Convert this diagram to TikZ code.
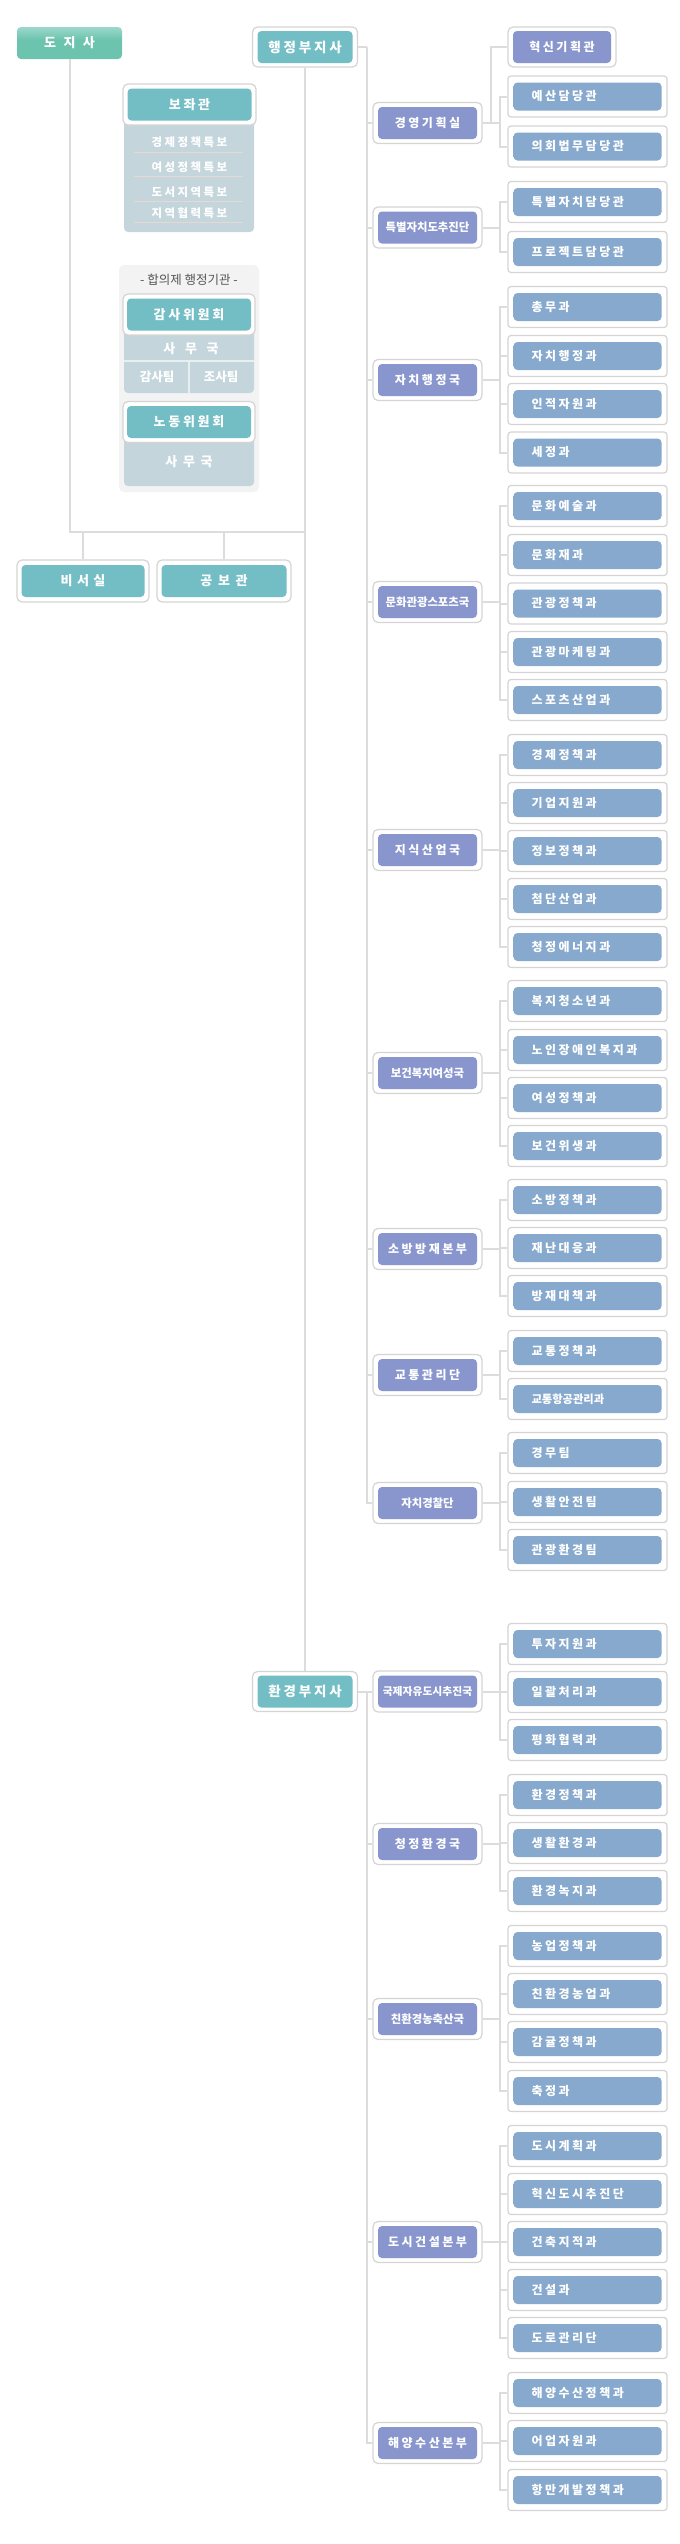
\documentclass[tikz,border=0pt]{standalone}
\usepackage{fontspec}
\setmainfont{Noto Sans CJK KR}
\newfontfamily\krtight{Noto Sans CJK KR}
\newfontfamily\krwide{Noto Sans CJK KR}[LetterSpace=21]
\newfontfamily\krwider{Noto Sans CJK KR}[LetterSpace=34]
\newfontfamily\krwidest{Noto Sans CJK KR}[LetterSpace=52]

\definecolor{linegray}{HTML}{DCDCDC}
\definecolor{framegray}{HTML}{D4D4D4}
\definecolor{tealbox}{HTML}{73BDC5}
\definecolor{chiefgreen}{HTML}{6CC3AE}
\definecolor{chieftop}{HTML}{9BD8CA}
\definecolor{periw}{HTML}{8896CD}
\definecolor{leafblue}{HTML}{87A9CD}
\definecolor{leafhi}{HTML}{D6E2EE}
\definecolor{panelblue}{HTML}{C4D6DC}
\definecolor{groupgray}{HTML}{F3F3F3}
\definecolor{seppink}{HTML}{E6D9D3}
\definecolor{titlegray}{HTML}{555555}

\pgfdeclarehorizontalshading{leafshade}{100bp}{color(0bp)=(leafhi); color(2bp)=(leafhi); color(11bp)=(leafblue); color(100bp)=(leafblue)}
\pgfdeclareverticalshading{chiefshade}{100bp}{color(0bp)=(chiefgreen); color(55bp)=(chiefgreen); color(75bp)=(chieftop); color(100bp)=(chieftop)}

\tikzset{
  conn/.style={draw=linegray, line width=2pt},
  boxframe/.style={draw=framegray, fill=white, line width=1.2pt, rounded corners=5pt, inner sep=0pt},
  inbox/.style={rounded corners=4pt, inner sep=0pt, text=white, font=\krwide\bfseries\fontsize{12}{14}\selectfont},
  chief/.style={shade, shading=chiefshade, rounded corners=4pt, inner sep=0pt, minimum width=105pt, minimum height=32pt, text=white, font=\krwider\bfseries\fontsize{13}{15}\selectfont},
  viceframe/.style={boxframe, minimum width=105pt, minimum height=40pt},
  vicebox/.style={inbox, fill=tealbox, minimum width=95pt, minimum height=32pt, font=\krwide\bfseries\fontsize{13.5}{15}\selectfont},
  headframe/.style={boxframe, minimum width=133pt, minimum height=41pt},
  headbox/.style={inbox, fill=tealbox, minimum width=124pt, minimum height=32pt, font=\krwide\bfseries\fontsize{13}{15}\selectfont},
  deptframe/.style={boxframe, minimum width=109pt, minimum height=41pt},
  deptbox/.style={inbox, fill=periw, minimum width=99pt, minimum height=32pt},
  tight/.style={font=\krtight\bfseries\fontsize{11.4}{14}\selectfont},
  leafframe/.style={boxframe, rounded corners=3pt, minimum width=159pt, minimum height=41pt},
  leafbox/.style={inbox, shade, shading=leafshade, minimum width=148pt, minimum height=28pt, text width=112pt, align=left},
  paneltext/.style={text=white, inner sep=0pt, font=\krwide\bfseries\fontsize{11.5}{14}\selectfont},
  sepline/.style={draw=seppink, line width=1pt},
  cutline/.style={draw=white!60!panelblue, line width=2pt}
}

\begin{document}
\begin{tikzpicture}[x=1pt,y=1pt,yscale=-1,xscale=1]
\useasboundingbox (0,0) rectangle (680,2544);

% 도지사, 비서실, 공보관
\node[chief] (dosa) at (69.5,43) {도 지 사};
\node[headframe, minimum width=132pt, minimum height=42pt] (biseo) at (83,581) {};
\node[headbox, minimum width=123pt, font=\krwider\bfseries\fontsize{13}{15}\selectfont] (biseo-t) at (biseo) {비서실};
\node[headframe, minimum width=134pt, minimum height=42pt] (gongbo) at (224,581) {};
\node[headbox, minimum width=125pt] (gongbo-t) at (gongbo) {공 보 관};

% 보좌관
\fill[panelblue, rounded corners=4pt] (124,118) rectangle (254,232);
\node[headframe] (bojwa) at (189.5,104.5) {};
\node[headbox] (bojwa-t) at (bojwa) {보좌관};
\node[paneltext] (bo1) at (189.5,142) {경제정책특보};
\node[paneltext] (bo2) at (189.5,167) {여성정책특보};
\node[paneltext] (bo3) at (189.5,192) {도서지역특보};
\node[paneltext] (bo4) at (189.5,213) {지역협력특보};
\draw[sepline] (134,152) -- (243,152);
\draw[sepline] (134,176) -- (243,176);
\draw[sepline] (134,201) -- (243,201);
\draw[sepline] (134,222) -- (243,222);

% 합의제 행정기관
\fill[groupgray, rounded corners=5pt] (119,265) rectangle (259,492);
\node[text=titlegray, inner sep=0pt, font=\krtight\fontsize{12.5}{14}\selectfont] (hab) at (189,280) {- 합의제 행정기관 -};
\fill[panelblue, rounded corners=4pt] (124,328) rectangle (254,393);
\draw[cutline] (124,361) -- (254,361);
\draw[cutline] (189,361) -- (189,393);
\node[headframe, minimum width=132pt] (gamsa) at (189,314.5) {};
\node[headbox] (gamsa-t) at (gamsa) {감사위원회};
\node[paneltext, font=\krwidest\bfseries\fontsize{13}{15}\selectfont] (gamsa-s) at (191,349) {사 무 국};
\node[paneltext, font=\krtight\bfseries\fontsize{12.5}{14}\selectfont] (gamsa-1) at (157,377) {감사팀};
\node[paneltext, font=\krtight\bfseries\fontsize{12.5}{14}\selectfont] (gamsa-2) at (221,377) {조사팀};
\fill[panelblue, rounded corners=4pt] (124,436) rectangle (254,486);
\node[headframe, minimum width=132pt] (nodong) at (189,422) {};
\node[headbox] (nodong-t) at (nodong) {노동위원회};
\node[paneltext, font=\krwide\bfseries\fontsize{13}{15}\selectfont] (nodong-s) at (189,462) {사 무 국};

% 부지사
\node[viceframe] (vp1) at (305,47) {};
\node[vicebox] (vp1-t) at (vp1) {행정부지사};
\node[viceframe] (vp2) at (305,1691.5) {};
\node[vicebox] (vp2-t) at (vp2) {환경부지사};
\coordinate (hub) at (305,532);
\draw[conn] (dosa.south) |- (hub);
\draw[conn] (biseo.north) -- (biseo.north |- hub);
\draw[conn] (gongbo.north) -- (gongbo.north |- hub);
\draw[conn] (vp1.south) -- (vp2.north);
\draw[conn] (vp1.east) -- ++(9,0) coordinate (spine1);
\draw[conn] (vp2.east) -- ++(9,0) coordinate (spine2);

% 경영기획실
\node[deptframe] (d1) at (427.5,123) {};
\node[deptbox] (d1-t) at (d1) {경영기획실};
\draw[conn] (spine1) |- (d1.west);
\node[deptframe, minimum width=108pt, minimum height=40pt] (innov) at (562,47) {};
\node[deptbox, minimum width=98pt] (innov-t) at (innov) {혁신기획관};
\draw[conn] (d1.east) -- ++(8,0) |- (innov.west);
\foreach \y/\t [count=\i] in {96.5/예산담당관, 146.5/의회법무담당관} {
  \node[leafframe] (d1-\i) at (587.5,\y) {};
  \node[leafbox] (d1-\i-t) at (d1-\i) {\t};
  \draw[conn] (d1.east) -- ++(17,0) |- (d1-\i.west);
}

% 특별자치도추진단
\node[deptframe] (d2) at (427.5,227.5) {};
\node[deptbox, tight] (d2-t) at (d2) {특별자치도추진단};
\draw[conn] (spine1) |- (d2.west);
\foreach \y/\t [count=\i] in {202/특별자치담당관, 252/프로젝트담당관} {
  \node[leafframe] (d2-\i) at (587.5,\y) {};
  \node[leafbox] (d2-\i-t) at (d2-\i) {\t};
  \draw[conn] (d2.east) -- ++(17,0) |- (d2-\i.west);
}

% 자치행정국
\node[deptframe] (d3) at (427.5,380) {};
\node[deptbox] (d3-t) at (d3) {자치행정국};
\draw[conn] (spine1) |- (d3.west);
\foreach \y/\t [count=\i] in {307/총무과, 356/자치행정과, 404/인적자원과, 452.5/세정과} {
  \node[leafframe] (d3-\i) at (587.5,\y) {};
  \node[leafbox] (d3-\i-t) at (d3-\i) {\t};
  \draw[conn] (d3.east) -- ++(17,0) |- (d3-\i.west);
}

% 문화관광스포츠국
\node[deptframe] (d4) at (427.5,602) {};
\node[deptbox, tight] (d4-t) at (d4) {문화관광스포츠국};
\draw[conn] (spine1) |- (d4.west);
\foreach \y/\t [count=\i] in {506/문화예술과, 555/문화재과, 603.5/관광정책과, 652/관광마케팅과, 700/스포츠산업과} {
  \node[leafframe] (d4-\i) at (587.5,\y) {};
  \node[leafbox] (d4-\i-t) at (d4-\i) {\t};
  \draw[conn] (d4.east) -- ++(17,0) |- (d4-\i.west);
}

% 지식산업국
\node[deptframe] (d5) at (427.5,850) {};
\node[deptbox] (d5-t) at (d5) {지식산업국};
\draw[conn] (spine1) |- (d5.west);
\foreach \y/\t [count=\i] in {755/경제정책과, 803/기업지원과, 851/정보정책과, 899/첨단산업과, 947/청정에너지과} {
  \node[leafframe] (d5-\i) at (587.5,\y) {};
  \node[leafbox] (d5-\i-t) at (d5-\i) {\t};
  \draw[conn] (d5.east) -- ++(17,0) |- (d5-\i.west);
}

% 보건복지여성국
\node[deptframe] (d6) at (427.5,1073) {};
\node[deptbox, tight] (d6-t) at (d6) {보건복지여성국};
\draw[conn] (spine1) |- (d6.west);
\foreach \y/\t [count=\i] in {1001/복지청소년과, 1050/노인장애인복지과, 1098/여성정책과, 1146/보건위생과} {
  \node[leafframe] (d6-\i) at (587.5,\y) {};
  \node[leafbox] (d6-\i-t) at (d6-\i) {\t};
  \draw[conn] (d6.east) -- ++(17,0) |- (d6-\i.west);
}

% 소방방재본부
\node[deptframe] (d7) at (427.5,1249) {};
\node[deptbox] (d7-t) at (d7) {소방방재본부};
\draw[conn] (spine1) |- (d7.west);
\foreach \y/\t [count=\i] in {1200/소방정책과, 1248/재난대응과, 1296/방재대책과} {
  \node[leafframe] (d7-\i) at (587.5,\y) {};
  \node[leafbox] (d7-\i-t) at (d7-\i) {\t};
  \draw[conn] (d7.east) -- ++(17,0) |- (d7-\i.west);
}

% 교통관리단
\node[deptframe] (d8) at (427.5,1375) {};
\node[deptbox] (d8-t) at (d8) {교통관리단};
\draw[conn] (spine1) |- (d8.west);
\foreach \y/\t [count=\i] in {1351/교통정책과, 1399/{\krtight\fontsize{11.3}{14}\selectfont 교통항공관리과}} {
  \node[leafframe] (d8-\i) at (587.5,\y) {};
  \node[leafbox] (d8-\i-t) at (d8-\i) {\t};
  \draw[conn] (d8.east) -- ++(17,0) |- (d8-\i.west);
}

% 자치경찰단
\node[deptframe] (d9) at (427.5,1503) {};
\node[deptbox, tight] (d9-t) at (d9) {자치경찰단};
\draw[conn] (spine1) |- (d9.west);
\foreach \y/\t [count=\i] in {1453/경무팀, 1502/생활안전팀, 1550/관광환경팀} {
  \node[leafframe] (d9-\i) at (587.5,\y) {};
  \node[leafbox] (d9-\i-t) at (d9-\i) {\t};
  \draw[conn] (d9.east) -- ++(17,0) |- (d9-\i.west);
}

% 국제자유도시추진국
\node[deptframe] (d10) at (427.5,1691.5) {};
\node[deptbox, font=\krtight\bfseries\fontsize{10.8}{13}\selectfont] (d10-t) at (d10) {국제자유도시추진국};
\draw[conn] (spine2) |- (d10.west);
\foreach \y/\t [count=\i] in {1644/투자지원과, 1692/일괄처리과, 1740/평화협력과} {
  \node[leafframe] (d10-\i) at (587.5,\y) {};
  \node[leafbox] (d10-\i-t) at (d10-\i) {\t};
  \draw[conn] (d10.east) -- ++(17,0) |- (d10-\i.west);
}

% 청정환경국
\node[deptframe] (d11) at (427.5,1844) {};
\node[deptbox] (d11-t) at (d11) {청정환경국};
\draw[conn] (spine2) |- (d11.west);
\foreach \y/\t [count=\i] in {1795/환경정책과, 1843/생활환경과, 1891/환경녹지과} {
  \node[leafframe] (d11-\i) at (587.5,\y) {};
  \node[leafbox] (d11-\i-t) at (d11-\i) {\t};
  \draw[conn] (d11.east) -- ++(17,0) |- (d11-\i.west);
}

% 친환경농축산국
\node[deptframe] (d12) at (427.5,2019) {};
\node[deptbox, tight] (d12-t) at (d12) {친환경농축산국};
\draw[conn] (spine2) |- (d12.west);
\foreach \y/\t [count=\i] in {1946/농업정책과, 1994/친환경농업과, 2042/감귤정책과, 2091/축정과} {
  \node[leafframe] (d12-\i) at (587.5,\y) {};
  \node[leafbox] (d12-\i-t) at (d12-\i) {\t};
  \draw[conn] (d12.east) -- ++(17,0) |- (d12-\i.west);
}

% 도시건설본부
\node[deptframe] (d13) at (427.5,2242) {};
\node[deptbox] (d13-t) at (d13) {도시건설본부};
\draw[conn] (spine2) |- (d13.west);
\foreach \y/\t [count=\i] in {2146/도시계획과, 2194/혁신도시추진단, 2242/건축지적과, 2290/건설과, 2338/도로관리단} {
  \node[leafframe] (d13-\i) at (587.5,\y) {};
  \node[leafbox] (d13-\i-t) at (d13-\i) {\t};
  \draw[conn] (d13.east) -- ++(17,0) |- (d13-\i.west);
}

% 해양수산본부
\node[deptframe] (d14) at (427.5,2443) {};
\node[deptbox] (d14-t) at (d14) {해양수산본부};
\draw[conn] (spine2) |- (d14.west);
\foreach \y/\t [count=\i] in {2393/해양수산정책과, 2441/어업자원과, 2490/항만개발정책과} {
  \node[leafframe] (d14-\i) at (587.5,\y) {};
  \node[leafbox] (d14-\i-t) at (d14-\i) {\t};
  \draw[conn] (d14.east) -- ++(17,0) |- (d14-\i.west);
}
\end{tikzpicture}
\end{document}
